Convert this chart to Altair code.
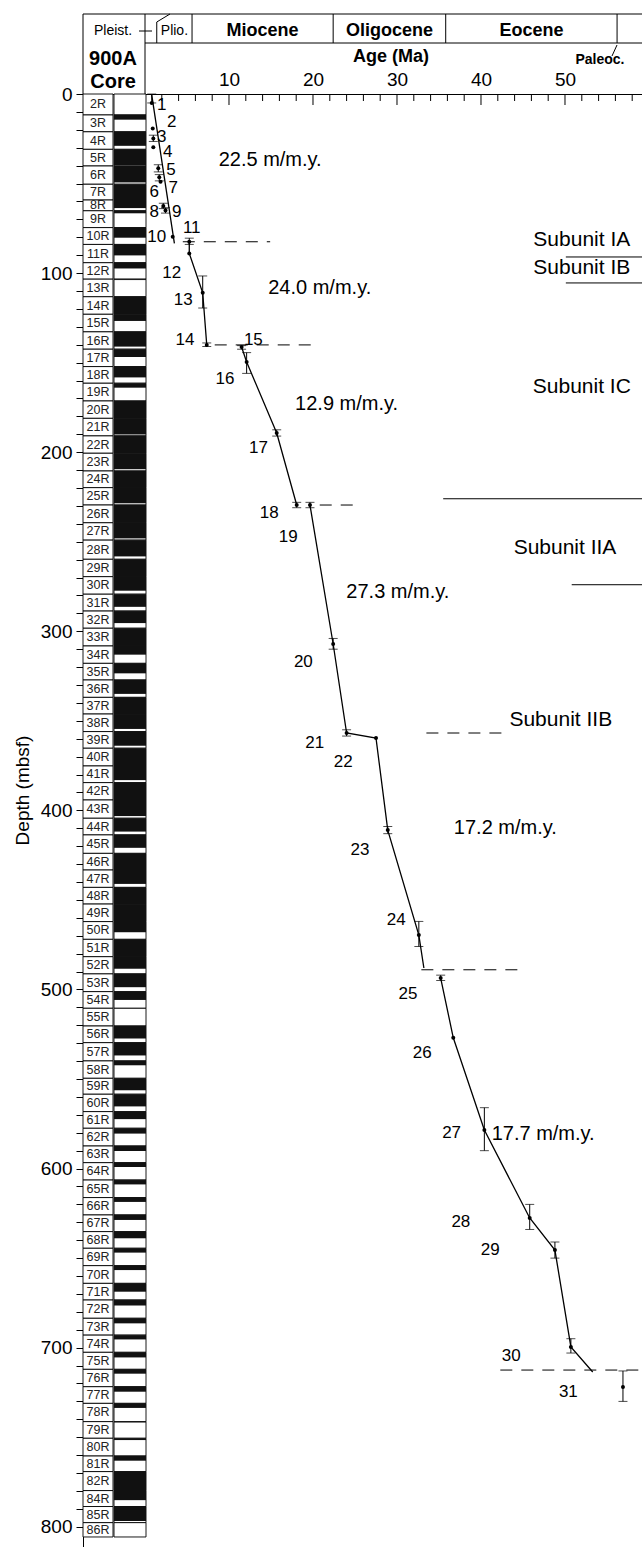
import altair as alt
import pandas as pd

FONT = "Liberation Sans"
W, H = 559, 1453          # plot area (x: 83..642, y: 94..1547 on the page)

# ---------------- Core column, Hole 900A ----------------
core_ids = [2, 3, 4, 5, 6, 7, 8, 9, 10, 11, 12, 13, 14, 15, 16, 17, 18, 19, 20, 21,
            22, 23, 24, 25, 26, 27, 28, 29, 30, 31, 32, 33, 34, 35, 36, 37, 38, 39, 40,
            41, 42, 43, 44, 45, 46, 47, 48, 49, 50, 51, 52, 53, 54, 55, 56, 57, 58, 59,
            60, 61, 62, 63, 64, 65, 66, 67, 68, 69, 70, 71, 72, 73, 74, 75, 76, 77, 78,
            79, 80, 81, 82, 84, 85, 86]
core_top = [0.0, 11.7, 21.1, 30.9, 40.2, 50.4, 59.2, 65.2, 74.6, 84.0, 94.2, 103.4,
            113.2, 123.0, 132.8, 142.5, 152.2, 161.5, 171.4, 181.1, 190.9, 200.6, 210.5,
            219.8, 229.5, 239.4, 249.1, 259.8, 269.5, 279.3, 288.7, 298.3, 308.2, 317.9,
            327.2, 336.9, 346.2, 356.0, 365.3, 375.2, 384.5, 394.2, 404.4, 413.7, 424.0,
            433.3, 443.0, 452.3, 462.1, 472.0, 481.7, 491.3, 501.2, 510.5, 520.4, 529.7,
            539.9, 549.6, 558.5, 568.2, 577.5, 587.4, 596.7, 606.4, 616.2, 625.9, 635.2,
            644.5, 654.2, 664.1, 673.4, 683.6, 693.0, 702.6, 712.1, 721.8, 731.1, 741.3,
            750.6, 760.5, 769.2, 779.8, 788.7, 797.7]
core_rec = [0.0, 0.28, 0.8, 0.95, 0.9, 1.0, 0.75, 0.15, 0.6, 0.6, 0.35, 0.05, 1.0, 0.38,
            0.85, 0.45, 0.65, 0.25, 1.0, 0.92, 1.0, 0.9, 1.0, 0.9, 1.0, 0.9, 0.85, 1.0,
            0.8, 0.75, 0.7, 1.0, 0.5, 0.6, 0.8, 1.0, 0.85, 0.85, 1.0, 0.85, 1.0, 0.88,
            0.8, 0.7, 1.0, 0.8, 1.0, 1.0, 0.6, 1.0, 0.7, 0.75, 0.5, 0.0, 0.75, 0.7, 0.25,
            0.75, 0.7, 0.45, 0.3, 0.3, 0.25, 0.25, 0.25, 0.3, 0.4, 0.25, 0.25, 0.5, 0.3,
            0.3, 0.25, 0.3, 0.25, 0.3, 0.25, 0.05, 0.1, 0.3, 1.0, 0.6, 0.9, 0.0]

# ---------------- Age datums ----------------
datum_no = list(range(1, 32))
datum_age = [0.8, 0.92, 0.99, 0.99, 1.58, 1.7, 1.85, 2.18, 2.44, 3.3, 5.27, 5.27, 6.87,
             7.35, 11.5, 12.1, 15.68, 18.06, 19.64, 22.4, 24.0, 27.5, 28.9, 32.6, 35.2,
             36.7, 40.4, 45.8, 48.8, 50.7, 56.9]
datum_depth = [5.0, 19.2, 24.8, 29.8, 41.5, 46.5, 49.0, 62.5, 65.0, 79.7, 82.5, 89.0,
               111.0, 140.1, 141.3, 149.6, 189.3, 229.5, 229.5, 307.1, 356.8, 359.6,
               411.0, 469.6, 493.6, 527.0, 578.5, 627.6, 645.5, 699.6, 722.0]
label_age = [2.0, 3.18, 1.98, 2.7, 3.1, 1.11, 3.37, 1.11, 3.77, 1.39, 5.56, 3.18, 4.56,
             4.76, 12.9, 9.52, 13.5, 14.8, 17.06, 18.85, 20.2, 23.6, 25.6, 29.9, 31.3,
             33.0, 36.5, 37.6, 41.1, 43.6, 50.4]
label_depth = [6.1, 15.5, 23.8, 32.2, 42.3, 54.5, 52.7, 65.7, 65.7, 79.7, 75.0, 100.1,
               115.0, 137.4, 137.4, 159.3, 197.8, 234.1, 247.5, 317.0, 362.4, 373.0,
               422.0, 461.0, 502.5, 535.5, 580.0, 629.8, 645.5, 704.7, 724.7]

# error bars on datums
err_age = [0.8, 0.99, 1.58, 1.7, 2.18, 2.44, 5.27, 6.87, 7.35, 11.5, 12.1, 15.68, 18.06,
           19.64, 22.4, 24.0, 28.9, 32.6, 35.2, 40.4, 45.8, 48.8, 50.7, 56.9]
err_top = [0.0, 23.0, 39.5, 45.0, 61.0, 63.5, 80.5, 101.6, 139.0, 140.5, 144.4, 187.5,
           228.0, 228.0, 304.0, 355.0, 409.0, 462.0, 492.0, 566.0, 620.0, 641.0, 695.0,
           713.0]
err_bot = [5.0, 26.5, 43.5, 48.5, 64.0, 66.5, 84.0, 119.5, 141.0, 142.5, 156.0, 191.0,
           231.0, 231.0, 310.0, 358.5, 413.0, 476.0, 495.0, 590.0, 634.0, 650.0, 703.0,
           730.0]

# age-depth line segments
line_seg = [1, 1, 2, 2, 2, 2, 3, 3, 3, 3, 4, 4, 4, 4, 4, 4, 4, 5, 5, 5, 5, 5, 5, 5]
line_age = [0.8, 3.5, 5.27, 5.27, 6.87, 7.35, 11.5, 12.1, 15.68, 18.06, 19.64, 22.4,
            24.0, 27.5, 28.9, 32.6, 33.2, 35.2, 36.7, 40.4, 45.8, 48.8, 50.7, 53.3]
line_depth = [0.5, 83.4, 82.5, 89.0, 111.0, 140.1, 141.3, 149.6, 189.3, 229.5, 229.5,
              307.1, 356.8, 359.6, 411.0, 469.6, 488.0, 493.6, 527.0, 578.5, 627.6,
              645.5, 699.6, 713.6]

# dashed hiatus lines
hiatus_depth = [82.5, 140.1, 229.5, 356.8, 489.0, 712.5]
hiatus_from = [4.5, 8.3, 20.8, 33.5, 32.9, 42.3]
hiatus_to = [14.9, 19.9, 24.8, 43.5, 44.6, 59.17]

# sedimentation rates
rate_text = ["22.5 m/m.y.", "24.0 m/m.y.", "12.9 m/m.y.", "27.3 m/m.y.",
             "17.2 m/m.y.", "17.7 m/m.y."]
rate_age = [14.9, 20.8, 24.0, 30.1, 42.9, 47.4]
rate_depth = [36.9, 108.3, 173.0, 278.0, 409.8, 580.7]

# lithologic subunits
subunit_text = ["Subunit IA", "Subunit IB", "Subunit IC", "Subunit IIA", "Subunit IIB"]
subunit_age = [52.0, 52.0, 52.0, 50.0, 49.5]
subunit_depth = [81.5, 97.2, 163.6, 253.5, 349.5]
subunit_line_depth = [91.0, 105.5, 226.0, 274.0]
subunit_line_from = [50.1, 50.1, 35.5, 50.8]

# epochs (header)
epoch_names = ["Pleist.", "Plio.", "Miocene", "Oligocene", "Eocene", "Paleoc."]
epoch_start = [0.0, 1.4, 5.6, 22.4, 35.8, 56.2]
epoch_end = [1.4, 5.6, 22.4, 35.8, 56.2, 59.17]

age_major = [10, 20, 30, 40, 50]
age_minor = [2, 4, 6, 8, 12, 14, 16, 18, 22, 24, 26, 28, 32, 34, 36, 38, 42, 44, 46,
             48, 52, 54, 56, 58]
depth_ticks = list(range(0, 801, 10))

# ---------------- tables ----------------
bots = core_top[1:] + [core_top[-1] + 8.0]
cores = pd.DataFrame({
    "name": [f"{c}R" for c in core_ids],
    "top": core_top,
    "bot": bots,
    "rec": [t + r * (b - t) for t, r, b in zip(core_top, core_rec, bots)],
})
cores["mid"] = (cores["top"] + cores["bot"]) / 2
datums = pd.DataFrame({"no": [str(n) for n in datum_no], "age": datum_age,
                       "depth": datum_depth, "lage": label_age, "ldepth": label_depth})
errs = pd.DataFrame({"age": err_age, "top": err_top, "bot": err_bot})
lines = pd.DataFrame({"seg": line_seg, "age": line_age, "depth": line_depth,
                      "i": list(range(len(line_age)))})
hiatus = pd.DataFrame({"depth": hiatus_depth, "a": hiatus_from, "b": hiatus_to})
rates = pd.DataFrame({"t": rate_text, "age": rate_age, "depth": rate_depth})
subs = pd.DataFrame({"t": subunit_text, "age": subunit_age, "depth": subunit_depth})
sublines = pd.DataFrame({"depth": subunit_line_depth, "a": subunit_line_from})
epochs = pd.DataFrame({"name": epoch_names, "s": epoch_start, "e": epoch_end})
epochs["mid"] = (epochs["s"] + epochs["e"]) / 2
ticks_major = pd.DataFrame({"age": age_major})
ticks_minor = pd.DataFrame({"age": age_minor})

# ---------------- scales / axes ----------------
xs = alt.Scale(domain=[-7.381, 59.167], nice=False, zero=False)
ys = alt.Scale(domain=[0, 811.3], nice=False, zero=False, reverse=True)
xaxis = alt.Axis(orient="top", values=age_major, ticks=False, tickSize=0,
                 labelFont=FONT, labelFontSize=19, labelColor="black", labelPadding=5,
                 labelFlush=False, domainColor="black", domainWidth=1, grid=False,
                 title=None)
yaxis = alt.Axis(orient="left", values=depth_ticks,
                 labelExpr="datum.value % 100 === 0 ? datum.label : ''",
                 tickSize=7, tickColor="black", domainColor="black", domainWidth=1,
                 labelColor="black", labelFont=FONT, labelFontSize=19, labelPadding=4,
                 labelOverlap=False, labelFlush=False, grid=False,
                 title="Depth (mbsf)", titleFont=FONT, titleFontSize=19,
                 titleFontWeight="normal", titleColor="black", titleX=-61, titleY=696,
                 titleAngle=270, titleAlign="center", titleBaseline="middle")


def X(f):
    return alt.X(f, type="quantitative", scale=xs, axis=xaxis)


def Y(f):
    return alt.Y(f, type="quantitative", scale=ys, axis=yaxis)


one = pd.DataFrame({"k": [0]})


def seg(x1, y1, x2, y2, w=1.0):
    return alt.Chart(one).mark_rule(color="black", strokeWidth=w).encode(
        x=alt.value(x1), x2=alt.value(x2), y=alt.value(y1), y2=alt.value(y2))


def label(text, x, y, size, weight="normal", align="center"):
    return alt.Chart(one).mark_text(text=text, font=FONT, fontSize=size,
                                    fontWeight=weight, color="black", align=align,
                                    baseline="middle").encode(
        x=alt.value(x), y=alt.value(y))


layers = []

# core column boxes
base_c = alt.Chart(cores)
layers.append(base_c.mark_rect(fill="white", stroke="black", strokeWidth=0.9).encode(
    x=alt.value(0), x2=alt.value(30), y=Y("top"), y2="bot"))
layers.append(base_c.mark_rect(fill="white", stroke="black", strokeWidth=0.9).encode(
    x=alt.value(31), x2=alt.value(63), y=Y("top"), y2="bot"))
layers.append(base_c.mark_rect(fill="#111111").encode(
    x=alt.value(31), x2=alt.value(63), y=Y("top"), y2="rec"))
layers.append(base_c.mark_text(font=FONT, fontSize=12.5, color="#222222",
                               baseline="middle").encode(
    x=alt.value(15), y=Y("mid"), text="name"))

# top axis ticks (pointing down into the plot)
layers.append(alt.Chart(ticks_minor).mark_rule(color="black").encode(
    x=X("age"), y=alt.value(0), y2=alt.value(7)))
layers.append(alt.Chart(ticks_major).mark_rule(color="black").encode(
    x=X("age"), y=alt.value(0), y2=alt.value(11)))

# header frame
layers += [
    seg(0, -80, W, -80),
    seg(0, -80, 0, 0),
    seg(62, -80, 62, 0),
    seg(62, -51, W, -51),
    seg(56, -63, 69, -63),
    seg(534, -49, 529, -38),
]
eb = epochs[epochs["s"] > 2]
layers.append(alt.Chart(eb).mark_rule(color="black").encode(
    x=X("s"), y=alt.value(-80), y2=alt.value(-51)))
pp = epochs[(epochs["s"] > 0) & (epochs["s"] < 2)]
layers.append(alt.Chart(pp).mark_rule(color="black").encode(
    x=X("s"), y=alt.value(-72), y2=alt.value(-51)))
layers.append(alt.Chart(pp).mark_rule(color="black").encode(
    x=X("s"), x2=alt.value(87), y=alt.value(-72), y2=alt.value(-80)))
mid_ep = epochs[epochs["name"].isin(["Miocene", "Oligocene", "Eocene"])]
layers.append(alt.Chart(mid_ep).mark_text(font=FONT, fontSize=18, fontWeight="bold",
                                          color="black", baseline="middle").encode(
    x=X("mid"), y=alt.value(-63), text="name"))
plio = epochs[epochs["name"] == "Plio."]
layers.append(alt.Chart(plio).mark_text(font=FONT, fontSize=14, color="black",
                                        baseline="middle").encode(
    x=X("mid"), y=alt.value(-63), text="name"))
layers += [
    label("Pleist.", 30, -63, 14),
    label("900A", 30, -35, 20, "bold"),
    label("Core", 30, -12, 20, "bold"),
    label("Paleoc.", 517, -34, 14, "bold"),
    label("Age (Ma)", 308, -37, 18, "bold"),
]

# subunit boundaries and hiatus lines
layers.append(alt.Chart(sublines).mark_rule(color="black", strokeWidth=1).encode(
    x=X("a"), x2=alt.value(W), y=Y("depth")))
layers.append(alt.Chart(hiatus).mark_rule(color="black", strokeWidth=1,
                                          strokeDash=[12, 9]).encode(
    x=X("a"), x2="b", y=Y("depth")))

# age-depth curve
layers.append(alt.Chart(lines).mark_line(color="black", strokeWidth=1.3).encode(
    x=X("age"), y=Y("depth"), detail="seg:N", order="i:Q"))

# error bars
layers.append(alt.Chart(errs).mark_rule(color="black", strokeWidth=1).encode(
    x=X("age"), y=Y("top"), y2="bot"))
layers.append(alt.Chart(errs).mark_tick(color="black", orient="horizontal", size=9,
                                        thickness=1).encode(x=X("age"), y=Y("top")))
layers.append(alt.Chart(errs).mark_tick(color="black", orient="horizontal", size=9,
                                        thickness=1).encode(x=X("age"), y=Y("bot")))

# datum points and numbers
layers.append(alt.Chart(datums).mark_circle(size=16, color="black", opacity=1).encode(
    x=X("age"), y=Y("depth")))
layers.append(alt.Chart(datums).mark_text(font=FONT, fontSize=17, color="black",
                                          baseline="middle").encode(
    x=X("lage"), y=Y("ldepth"), text="no"))

# text annotations
layers.append(alt.Chart(rates).mark_text(font=FONT, fontSize=20, color="black",
                                         baseline="middle").encode(
    x=X("age"), y=Y("depth"), text="t"))
layers.append(alt.Chart(subs).mark_text(font=FONT, fontSize=21, color="black",
                                        baseline="middle").encode(
    x=X("age"), y=Y("depth"), text="t"))

chart = alt.layer(*layers).properties(
    width=W, height=H,
    padding={"left": 83, "top": 94, "right": 0, "bottom": 0},
    autosize=alt.AutoSizeParams(type="none"),
).configure_view(stroke=None)

chart.save("out.html", embed_options={"renderer": "svg", "actions": False})
